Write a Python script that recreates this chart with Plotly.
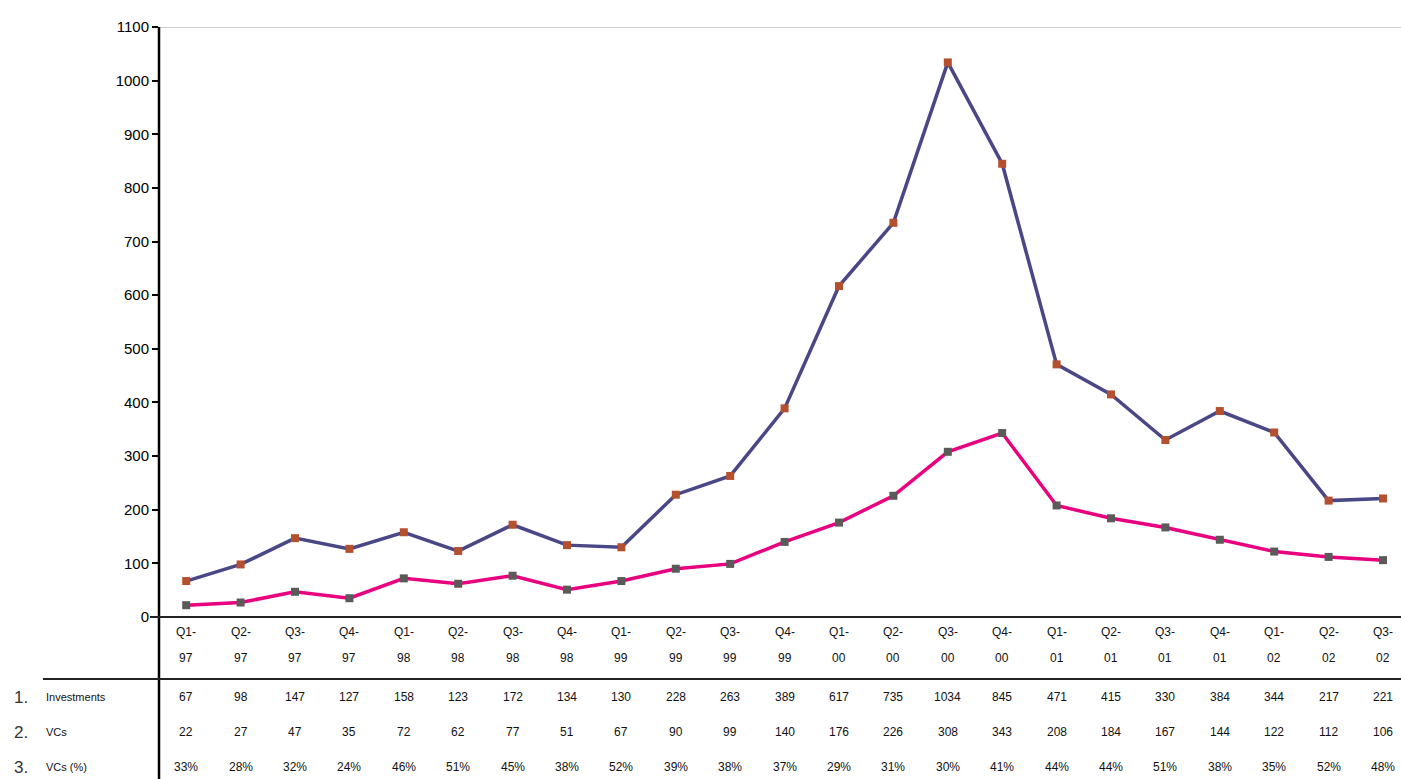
import plotly.graph_objects as go

cat_top = ["Q1-","Q2-","Q3-","Q4-","Q1-","Q2-","Q3-","Q4-","Q1-","Q2-","Q3-","Q4-",
           "Q1-","Q2-","Q3-","Q4-","Q1-","Q2-","Q3-","Q4-","Q1-","Q2-","Q3-"]
cat_bottom = ["97","97","97","97","98","98","98","98","99","99","99","99",
              "00","00","00","00","01","01","01","01","02","02","02"]
investors = [67, 98, 147, 127, 158, 123, 172, 134, 130, 228, 263, 389,
             617, 735, 1034, 845, 471, 415, 330, 384, 344, 217, 221]
vcs = [22, 27, 47, 35, 72, 62, 77, 51, 67, 90, 99, 140,
       176, 226, 308, 343, 208, 184, 167, 144, 122, 112, 106]
vcs_pct = ["33%","28%","32%","24%","46%","51%","45%","38%","52%","39%","38%","37%",
           "29%","31%","30%","41%","44%","44%","51%","38%","35%","52%","48%"]
row_labels = ["Investments", "VCs", "VCs (%)"]
y_ticks = [0, 100, 200, 300, 400, 500, 600, 700, 800, 900, 1000, 1100]

W, H = 1401, 779
L, T, B = 159, 27, 162
plot_h = H - T - B
plot_w = W - L

x = list(range(len(investors)))

fig = go.Figure()
fig.add_trace(go.Scatter(
    x=x, y=investors, mode="lines+markers",
    line=dict(color="#4a4787", width=3.5),
    marker=dict(symbol="square", size=8, color="#b5502f"),
    name="Investments", showlegend=False, cliponaxis=False))
fig.add_trace(go.Scatter(
    x=x, y=vcs, mode="lines+markers",
    line=dict(color="#e8007f", width=3.5),
    marker=dict(symbol="square", size=8, color="#5a5a58"),
    name="VCs", showlegend=False, cliponaxis=False))

def py(pix):
    return (H - B - pix) / plot_h

def px(pix):
    return (pix - L) / plot_w

font_tbl = dict(family="Liberation Sans, Arial", size=12, color="#111")
ann = []
for i in x:
    ann.append(dict(x=i, y=py(632), xref="x", yref="paper", text=cat_top[i],
                    showarrow=False, font=font_tbl, yanchor="middle"))
    ann.append(dict(x=i, y=py(658), xref="x", yref="paper", text=cat_bottom[i],
                    showarrow=False, font=font_tbl, yanchor="middle"))
    ann.append(dict(x=i, y=py(697), xref="x", yref="paper", text=str(investors[i]),
                    showarrow=False, font=font_tbl, yanchor="middle"))
    ann.append(dict(x=i, y=py(732), xref="x", yref="paper", text=str(vcs[i]),
                    showarrow=False, font=font_tbl, yanchor="middle"))
    ann.append(dict(x=i, y=py(767), xref="x", yref="paper", text=vcs_pct[i],
                    showarrow=False, font=font_tbl, yanchor="middle"))

row_y = [697, 732, 767]
for k, lab in enumerate(row_labels):
    ann.append(dict(x=px(12), y=py(row_y[k]), xref="paper", yref="paper",
                    text=f"{k+1}.", showarrow=False, xanchor="left", yanchor="middle",
                    font=dict(family="Liberation Sans, Arial", size=17, color="#333")))
    ann.append(dict(x=px(44), y=py(row_y[k]), xref="paper", yref="paper",
                    text=lab, showarrow=False, xanchor="left", yanchor="middle",
                    font=dict(family="Liberation Sans, Arial", size=11, color="#111")))

shapes = [
    dict(type="line", xref="paper", yref="y", x0=0, x1=1, y0=1100, y1=1100,
         line=dict(color="#a09a98", width=1)),
    dict(type="line", xref="paper", yref="paper", x0=0, x1=0, y0=1, y1=py(H + 2),
         line=dict(color="#000", width=2.5)),
    dict(type="line", xref="paper", yref="paper", x0=px(150), x1=1, y0=0, y1=0,
         line=dict(color="#222", width=2)),
    dict(type="line", xref="paper", yref="paper", x0=px(43), x1=1, y0=py(679), y1=py(679),
         line=dict(color="#222", width=2)),
]

fig.update_layout(
    width=W, height=H,
    margin=dict(l=L, r=0, t=T, b=B),
    paper_bgcolor="white", plot_bgcolor="white",
    xaxis=dict(range=[-0.5, -0.5 + plot_w / 54.4], showticklabels=False,
               showgrid=False, zeroline=False, showline=False, ticks=""),
    yaxis=dict(range=[0, 1100], tickvals=y_ticks, ticks="outside", ticklen=6,
               tickwidth=1.5, tickcolor="#000", showgrid=False, zeroline=False,
               showline=False,
               tickfont=dict(family="Liberation Sans, Arial", size=15, color="#000")),
    annotations=ann, shapes=shapes,
)

fig.write_html("out.html", config={"displayModeBar": False},
               post_script="document.body.style.margin='0';document.body.style.overflow='hidden';")
